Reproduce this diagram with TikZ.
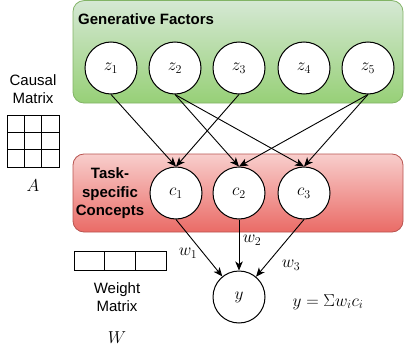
\documentclass[tikz,border=0pt]{standalone}
\usepackage{fontspec}
\setmainfont{Liberation Sans}
\usetikzlibrary{arrows.meta}
\definecolor{gtop}{HTML}{D5E8D4}
\definecolor{gbot}{HTML}{97D077}
\definecolor{gline}{HTML}{82B366}
\definecolor{rtop}{HTML}{F8CECC}
\definecolor{rbot}{HTML}{EA6B66}
\definecolor{rline}{HTML}{B85450}
\tikzset{
  varnode/.style={circle, draw=black, line width=1pt, fill=white, minimum size=52pt, inner sep=0pt, font=\fontsize{17}{20}\selectfont},
  edgearrow/.style={line width=0.9pt, -{Stealth[length=9pt,width=7.5pt,inset=2.5pt]}},
  sanslabel/.style={font=\fontsize{15}{18}\selectfont, align=center, inner sep=0pt},
  boldlabel/.style={font=\fontsize{15}{18.5}\selectfont\bfseries, align=center, inner sep=0pt},
  mathlabel/.style={font=\fontsize{17}{20}\selectfont, inner sep=0pt},
  cellbox/.style={draw=black, line width=0.9pt},
}
\begin{document}
\begin{tikzpicture}[x=1pt,y=-1pt]
\useasboundingbox (0,0) rectangle (404,353);
% group boxes
\path[draw=gline, line width=0.8pt, top color=gtop, bottom color=gbot, rounded corners=11pt] (73,0.6) rectangle (403,103);
\path[draw=rline, line width=0.8pt, top color=rtop, bottom color=rbot, rounded corners=11pt] (73,154) rectangle (403,232);
\node[boldlabel, anchor=west] (gf) at (78,19) {Generative Factors};
\node[boldlabel] (tsc) at (110,193.5) {Task-\\specific\\Concepts};
% generative factors
\node[varnode] (z1) at (111,68) {$z_1$};
\node[varnode] (z2) at (175,68) {$z_2$};
\node[varnode] (z3) at (239,68) {$z_3$};
\node[varnode] (z4) at (304,68) {$z_4$};
\node[varnode] (z5) at (368,68) {$z_5$};
% concepts
\node[varnode] (c1) at (176,193) {$c_1$};
\node[varnode] (c2) at (239,193) {$c_2$};
\node[varnode] (c3) at (304,193) {$c_3$};
% output
\node[varnode] (y) at (239,297) {$y$};
% edges
\draw[edgearrow] (z1.south) -- (c1.north);
\draw[edgearrow] (z3.south) -- (c1.north);
\draw[edgearrow] (z2.south) -- (c2.north);
\draw[edgearrow] (z5.south) -- (c2.north);
\draw[edgearrow] (z2.south) -- (c3.north);
\draw[edgearrow] (z5.south) -- (c3.north);
\draw[edgearrow] (c1.south) -- (y);
\draw[edgearrow] (c2.south) -- (y);
\draw[edgearrow] (c3.south) -- (y);
\node[mathlabel] (w1) at (188,253) {$w_1$};
\node[mathlabel] (w2) at (252,240) {$w_2$};
\node[mathlabel] (w3) at (291,265) {$w_3$};
% causal matrix
\node[sanslabel] (cm) at (33,89) {Causal\\Matrix};
\foreach \i in {0,1,2}{
  \foreach \j in {0,1,2}{
    \draw[cellbox] (7+17.33*\i,115+17.33*\j) rectangle ++(17.33,17.33);
  }
}
\node[mathlabel] (A) at (33,186) {$A$};
% weight matrix
\foreach \i in {0,1,2}{
  \draw[cellbox] (74+30.67*\i,251) rectangle ++(30.67,19);
}
\node[sanslabel] (wm) at (117,297) {Weight\\Matrix};
\node[mathlabel] (W) at (117,338) {$W$};
% equation
\node[mathlabel] (eq) at (328,302) {$y = \Sigma w_i c_i$};
\end{tikzpicture}
\end{document}
